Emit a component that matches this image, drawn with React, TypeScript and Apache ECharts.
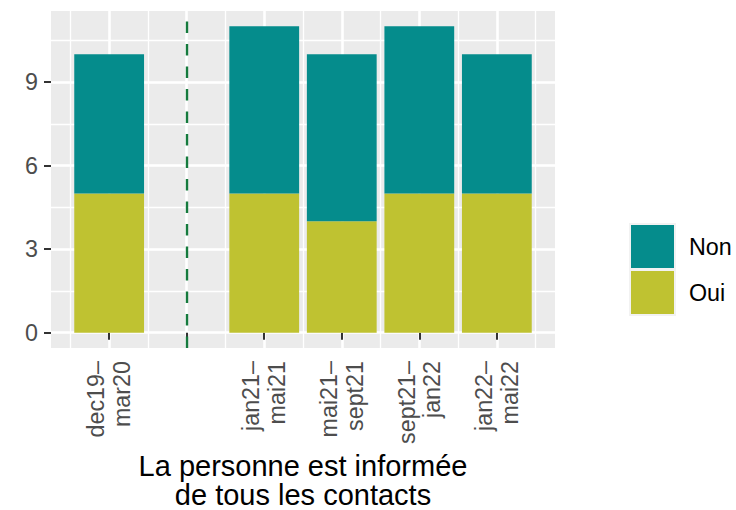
import React, { useEffect, useRef } from "react";
import * as echarts from "echarts";

// ---- data ----
const categories = ["dec19–\nmar20", "", "jan21–\nmai21", "mai21–\nsept21", "sept21–\njan22", "jan22–\nmai22"];
const ouiValues: (number | null)[] = [5, null, 5, 4, 5, 5];
const nonValues: (number | null)[] = [5, null, 6, 6, 6, 5];
const yTickStep = 3;
const yTickMax = 9;
const separatorIndex = 1;
const legendOrder = ["Non", "Oui"];
const xTitleLines = ["La personne est informée", "de tous les contacts"];

// ---- layout ----
const FONT = "'Liberation Sans', Arial, Helvetica, sans-serif";
const PANEL_L = 51, PANEL_T = 11, PANEL_R = 555, PANEL_B = 348;
const X_MIN = 0.25, X_MAX = 6.75; // category positions are 1..6
const Y_MIN = -0.55, Y_MAX = 11.55;
const ux = (PANEL_R - PANEL_L) / (X_MAX - X_MIN);
const uy = (PANEL_B - PANEL_T) / (Y_MAX - Y_MIN);
const gx = (v: number) => PANEL_L + (v - X_MIN) * ux;
const gy = (v: number) => PANEL_B - (v - Y_MIN) * uy;
const PW = PANEL_R - PANEL_L, PH = PANEL_B - PANEL_T;

const COLORS = { Non: "#058C8C", Oui: "#BFC231" };
const MINOR_W = 1.3, MAJOR_W = 2.6;
const TITLE_FS = 29, TITLE_LH = 29, TITLE_TOP = 451;

const hidden = (gridIndex: number) => ({ type: "value", gridIndex, min: 0, max: 1, show: false });

export default function App() {
  const ref = useRef<HTMLDivElement>(null);
  useEffect(() => {
    if (!ref.current) return;
    const chart = echarts.init(ref.current, null, { renderer: "svg" });
    const nCat = categories.length;
    const option: any = {
      animation: false,
      textStyle: { fontFamily: FONT },
      grid: [
        { left: PANEL_L, top: PANEL_T, width: PW, height: PH, show: true, backgroundColor: "#EBEBEB", borderWidth: 0 },
        { left: gx(0.5), top: PANEL_T, width: gx(nCat + 0.5) - gx(0.5), height: PH },
        { left: gx(1), top: PANEL_T, width: gx(nCat) - gx(1), height: PH },
        { left: PANEL_L, top: gy(yTickMax + yTickStep / 2), width: PW, height: gy(0) - gy(yTickMax + yTickStep / 2) },
        { left: PANEL_L, top: gy(yTickMax), width: PW, height: gy(0) - gy(yTickMax) },
      ],
      xAxis: [
        hidden(0),
        {
          type: "category", gridIndex: 1, data: categories, boundaryGap: true, z: 1,
          axisLine: { show: false },
          axisTick: { show: true, alignWithLabel: true, length: 7, interval: 0, lineStyle: { color: "#333333", width: 2 } },
          axisLabel: { interval: 0, rotate: 90, margin: 13, fontSize: 23.3, color: "#4D4D4D", lineHeight: 25.5, fontFamily: FONT },
          splitLine: { show: true, interval: 0, lineStyle: { color: "#FFFFFF", width: MINOR_W } },
        },
        {
          type: "value", gridIndex: 2, min: 1, max: nCat, interval: 1, z: 1,
          axisLine: { show: false }, axisTick: { show: false }, axisLabel: { show: false },
          splitLine: { show: true, lineStyle: { color: "#FFFFFF", width: MAJOR_W } },
        },
        hidden(3),
        hidden(4),
      ],
      yAxis: [
        hidden(0),
        { type: "value", gridIndex: 1, min: Y_MIN, max: Y_MAX, show: false },
        hidden(2),
        {
          type: "value", gridIndex: 3, min: 0, max: yTickMax + yTickStep / 2, interval: yTickStep / 2, z: 1,
          axisLine: { show: false }, axisTick: { show: false }, axisLabel: { show: false },
          splitLine: { show: true, lineStyle: { color: "#FFFFFF", width: MINOR_W } },
        },
        {
          type: "value", gridIndex: 4, min: 0, max: yTickMax, interval: yTickStep, z: 1,
          axisLine: { show: false },
          axisTick: { show: true, length: 7, lineStyle: { color: "#333333", width: 2 } },
          axisLabel: { margin: 13, fontSize: 23.3, color: "#4D4D4D", fontFamily: FONT },
          splitLine: { show: true, lineStyle: { color: "#FFFFFF", width: MAJOR_W } },
        },
      ],
      legend: {
        data: legendOrder, orient: "vertical", left: 631, top: 225, padding: 0,
        itemWidth: 43, itemHeight: 43, itemGap: 3, icon: "rect", selectedMode: false,
        textStyle: { fontSize: 23.3, color: "#000000", fontFamily: FONT, padding: [0, 0, 0, 10] },
      },
      graphic: [
        { type: "rect", shape: { x: 629, y: 223, width: 47, height: 93 }, style: { fill: "#F2F2F2" }, z: -1, silent: true },
        ...xTitleLines.map((t, i) => ({
          type: "text", x: (PANEL_L + PANEL_R) / 2, y: TITLE_TOP + i * TITLE_LH, silent: true,
          style: { text: t, fontSize: TITLE_FS, fontFamily: FONT, fill: "#000000", align: "center", verticalAlign: "top" },
        })),
      ],
      series: [
        {
          name: "Oui", type: "bar", xAxisIndex: 1, yAxisIndex: 1, stack: "total", z: 2,
          barWidth: 0.9 * ux, data: ouiValues, itemStyle: { color: COLORS.Oui },
        },
        {
          name: "Non", type: "bar", xAxisIndex: 1, yAxisIndex: 1, stack: "total", z: 2,
          barWidth: 0.9 * ux, data: nonValues, itemStyle: { color: COLORS.Non },
          markLine: {
            silent: true, symbol: ["none", "none"], label: { show: false },
            lineStyle: { color: "#157A3D", width: 2.4, type: [11.5, 11] },
            emphasis: { disabled: true },
            data: [{ xAxis: separatorIndex }],
          },
        },
      ],
    };
    chart.setOption(option);
    return () => chart.dispose();
  }, []);
  return <div ref={ref} style={{ position: "absolute", left: 0, top: 0, width: 736, height: 510 }} />;
}
